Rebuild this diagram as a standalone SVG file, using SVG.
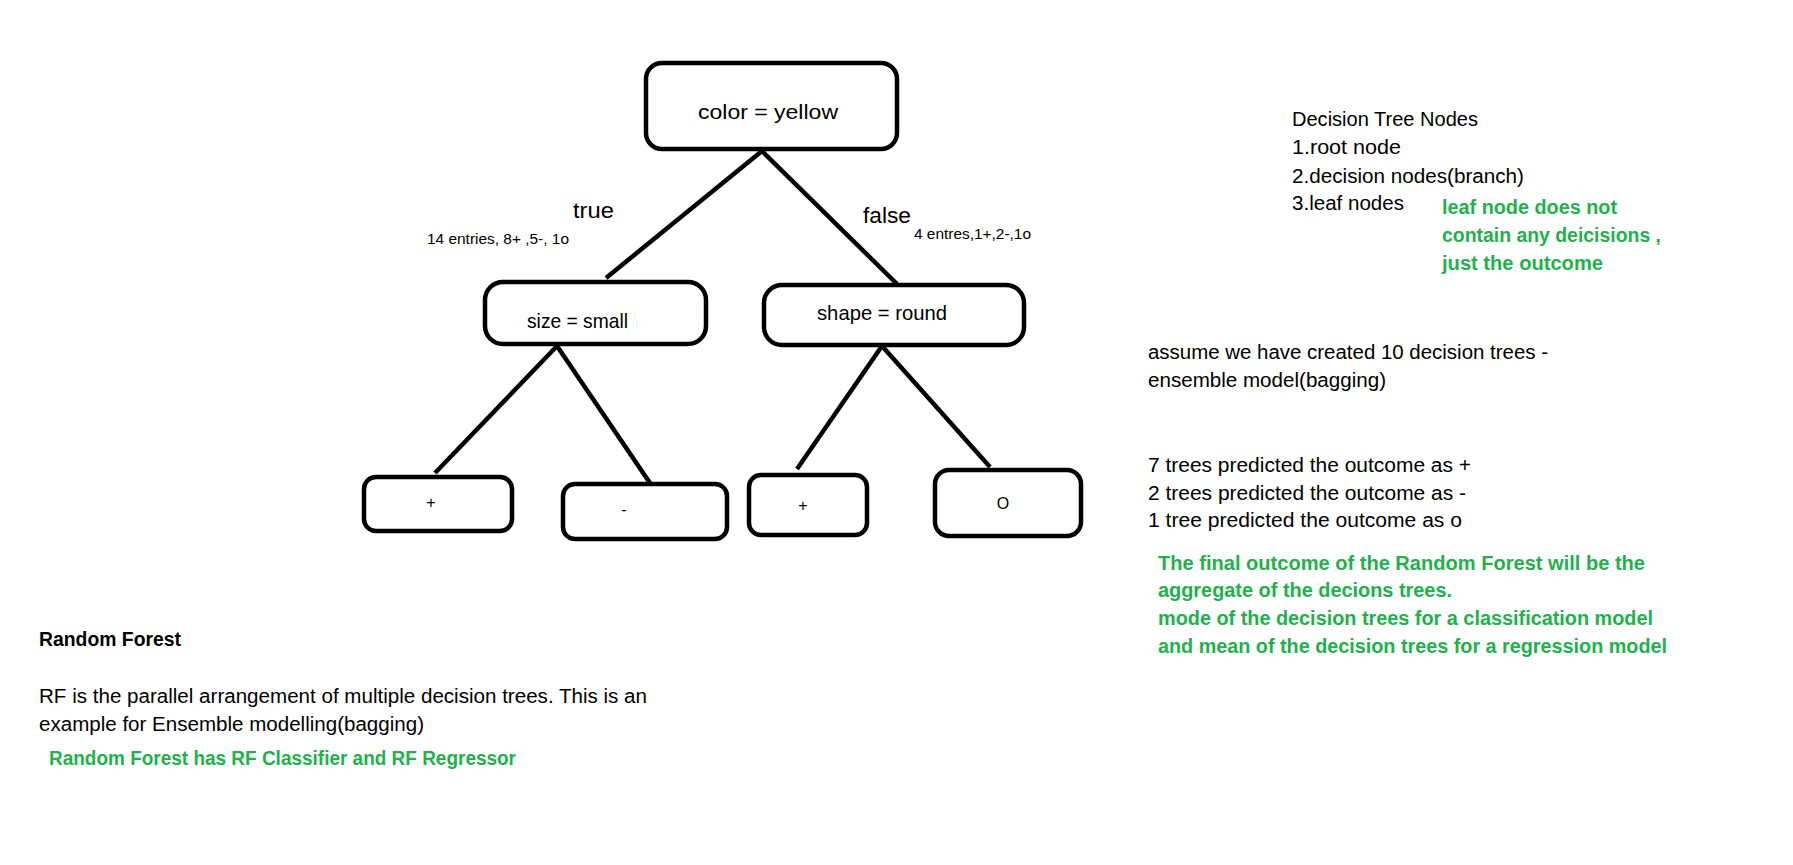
<svg xmlns="http://www.w3.org/2000/svg" width="1793" height="865" viewBox="0 0 1793 865">
<style>
.box{fill:#fff;stroke:#000;stroke-width:4.5}
.edge{stroke:#000;stroke-width:4.5;fill:none;stroke-linecap:butt}
text{font-family:"Liberation Sans",Arial,sans-serif;fill:#000}
.lbl{font-size:21px}
.sm{font-size:15px}
.leaf{font-size:16px;text-anchor:middle}
.body{font-size:20px}
.g{fill:#22b14c;font-weight:bold;font-size:20px}
.b{font-weight:bold;font-size:20px}
</style>
<rect width="1793" height="865" fill="#fff"/>
<g id="connectors">
<line class="edge" x1="762" y1="151" x2="606" y2="278"/>
<line class="edge" x1="762" y1="151" x2="897" y2="284"/>
<line class="edge" x1="557" y1="346" x2="435" y2="473"/>
<line class="edge" x1="557" y1="346" x2="652" y2="486"/>
<line class="edge" x1="882" y1="346" x2="797" y2="469"/>
<line class="edge" x1="882" y1="346" x2="990" y2="467"/>
</g>
<g id="root">
<rect class="box" x="646" y="63" width="251" height="86" rx="16"/>
<text class="lbl" x="698" y="119" font-size="22" textLength="140" lengthAdjust="spacingAndGlyphs">color = yellow</text>
</g>
<g id="edge-labels">
<text x="573" y="218" font-size="22" textLength="41" lengthAdjust="spacingAndGlyphs">true</text>
<text class="sm" x="427" y="244" textLength="142" lengthAdjust="spacingAndGlyphs">14 entries, 8+ ,5-, 1o</text>
<text x="863" y="223" font-size="22" textLength="48" lengthAdjust="spacingAndGlyphs">false</text>
<text class="sm" x="914" y="239" textLength="117" lengthAdjust="spacingAndGlyphs">4 entres,1+,2-,1o</text>
</g>
<g id="size-small">
<rect class="box" x="485" y="282" width="221" height="62" rx="18"/>
<text class="lbl" x="527" y="328" textLength="101" lengthAdjust="spacingAndGlyphs">size = small</text>
</g>
<g id="shape-round">
<rect class="box" x="764" y="285" width="260" height="60" rx="18"/>
<text class="lbl" x="817" y="320" textLength="130" lengthAdjust="spacingAndGlyphs">shape = round</text>
</g>
<g id="leaf1">
<rect class="box" x="364" y="477" width="148" height="54" rx="12"/>
<text class="leaf" x="431" y="508">+</text>
</g>
<g id="leaf2">
<rect class="box" x="563" y="484" width="164" height="55" rx="12"/>
<text class="leaf" x="624" y="515">-</text>
</g>
<g id="leaf3">
<rect class="box" x="749" y="475" width="118" height="60" rx="12"/>
<text class="leaf" x="803" y="511">+</text>
</g>
<g id="leaf4">
<rect class="box" x="935" y="470" width="146" height="66" rx="14"/>
<text class="leaf" x="1003" y="509">O</text>
</g>
<g id="notes-right">
<text class="body" x="1292" y="126" textLength="186" lengthAdjust="spacingAndGlyphs">Decision Tree Nodes</text>
<text class="body" x="1292" y="154" textLength="109" lengthAdjust="spacingAndGlyphs">1.root node</text>
<text class="body" x="1292" y="183" textLength="232" lengthAdjust="spacingAndGlyphs">2.decision nodes(branch)</text>
<text class="body" x="1292" y="210" textLength="112" lengthAdjust="spacingAndGlyphs">3.leaf nodes</text>
<text class="g" x="1442" y="214" textLength="175" lengthAdjust="spacingAndGlyphs">leaf node does not</text>
<text class="g" x="1442" y="242" textLength="219" lengthAdjust="spacingAndGlyphs">contain any deicisions ,</text>
<text class="g" x="1442" y="270" textLength="161" lengthAdjust="spacingAndGlyphs">just the outcome</text>
<text class="body" x="1148" y="359" textLength="400" lengthAdjust="spacingAndGlyphs">assume we have created 10 decision trees -</text>
<text class="body" x="1148" y="387" textLength="238" lengthAdjust="spacingAndGlyphs">ensemble model(bagging)</text>
<text class="body" x="1148" y="472" textLength="323" lengthAdjust="spacingAndGlyphs">7 trees predicted the outcome as +</text>
<text class="body" x="1148" y="500" textLength="318" lengthAdjust="spacingAndGlyphs">2 trees predicted the outcome as -</text>
<text class="body" x="1148" y="527" textLength="314" lengthAdjust="spacingAndGlyphs">1 tree predicted the outcome as o</text>
<text class="g" x="1158" y="570" textLength="487" lengthAdjust="spacingAndGlyphs">The final outcome of the Random Forest will be the</text>
<text class="g" x="1158" y="597" textLength="294" lengthAdjust="spacingAndGlyphs">aggregate of the decions trees.</text>
<text class="g" x="1158" y="625" textLength="495" lengthAdjust="spacingAndGlyphs">mode of the decision trees for a classification model</text>
<text class="g" x="1158" y="653" textLength="509" lengthAdjust="spacingAndGlyphs">and mean of the decision trees for a regression model</text>
</g>
<g id="notes-left">
<text class="b" x="39" y="646" textLength="142" lengthAdjust="spacingAndGlyphs">Random Forest</text>
<text class="body" x="39" y="703" textLength="608" lengthAdjust="spacingAndGlyphs">RF is the parallel arrangement of multiple decision trees. This is an</text>
<text class="body" x="39" y="731" textLength="385" lengthAdjust="spacingAndGlyphs">example for Ensemble modelling(bagging)</text>
<text class="g" x="49" y="765" textLength="467" lengthAdjust="spacingAndGlyphs">Random Forest has RF Classifier and RF Regressor</text>
</g>
</svg>
